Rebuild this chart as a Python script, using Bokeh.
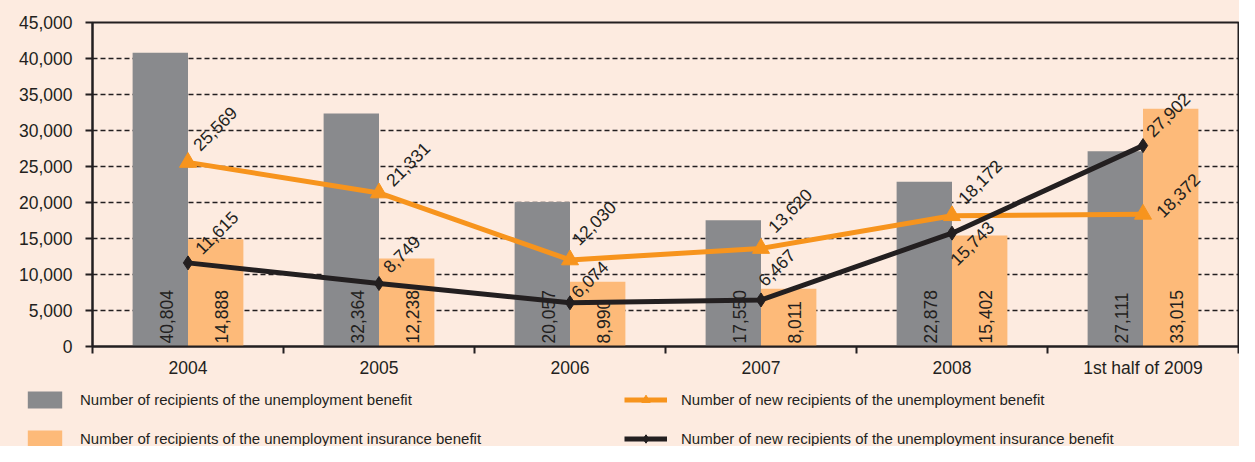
import numpy as np
from bokeh.plotting import figure
from bokeh.layouts import column
from bokeh.models import (ColumnDataSource, FixedTicker, NumeralTickFormatter, Legend,
                          LegendItem, Range1d)
from bokeh.core.properties import value
from bokeh.embed import file_html
from bokeh.resources import INLINE

categories = ["2004", "2005", "2006", "2007", "2008", "1st half of 2009"]
recipients_ub = [40804, 32364, 20057, 17550, 22878, 27111]
recipients_uib = [14888, 12238, 8990, 8011, 15402, 33015]
new_ub = [25569, 21331, 12030, 13620, 18172, 18372]
new_uib = [11615, 8749, 6074, 6467, 15743, 27902]
y_ticks = [0, 5000, 10000, 15000, 20000, 25000, 30000, 35000, 40000, 45000]
series_names = [
    "Number of recipients of the unemployment benefit",
    "Number of recipients of the unemployment insurance benefit",
    "Number of new recipients of the unemployment benefit",
    "Number of new recipients of the unemployment insurance benefit",
]

# label nudges in screen pixels (style only)
ub_dx = [8, 10, 5, 10, 9, 16]
ub_dy = [15, 10, 18, 19, 15, 0]
uib_dx = [10, 7, 4, 0, 1, 6]
uib_dy = [12, 14, 8, 17, -29, 12]

BG = "#FDEBE0"
GREY = "#898A8D"
ORANGE_BAR = "#FDBA79"
ORANGE = "#F7941D"
DARK = "#231F20"
FONT = "Liberation Sans"
FS = "17.5px"

n = len(categories)
xc = np.arange(n) + 0.5
off = 0.145
bw = 0.29

fmt = lambda v: f"{v:,}"

src = ColumnDataSource(dict(
    xg=xc - off, xo=xc + off, xc=xc,
    grey=recipients_ub, orange=recipients_uib,
    new_ub=new_ub, new_uib=new_uib,
    grey_lbl=[fmt(v) for v in recipients_ub],
    orange_lbl=[fmt(v) for v in recipients_uib],
    ub_lbl=[fmt(v) for v in new_ub],
    uib_lbl=[fmt(v) for v in new_uib],
    ub_dx=ub_dx, ub_dy=[-d for d in ub_dy],
    uib_dx=uib_dx, uib_dy=[-d for d in uib_dy],
))

p = figure(width=1239, height=380, output_backend="svg", toolbar_location=None,
           x_range=Range1d(0, n), y_range=Range1d(0, 45000),
           min_border_left=92, min_border_right=1, min_border_top=22, min_border_bottom=34)
p.frame_align = False
p.background_fill_color = BG
p.border_fill_color = BG
p.outline_line_color = DARK
p.outline_line_width = 2

# axes
p.yaxis.ticker = FixedTicker(ticks=y_ticks)
p.yaxis.formatter = NumeralTickFormatter(format="0,0")
p.yaxis.major_tick_out = 7
p.yaxis.major_tick_in = 0
p.yaxis.minor_tick_line_color = None
p.yaxis.major_label_standoff = 13

p.xaxis.ticker = FixedTicker(ticks=list(xc), minor_ticks=list(range(n + 1)))
p.xaxis.major_label_overrides = {float(x): c for x, c in zip(xc, categories)}
p.xaxis.major_tick_out = 0
p.xaxis.minor_tick_out = 7
p.xaxis.minor_tick_in = 0
p.xaxis.minor_tick_line_color = DARK
p.xaxis.minor_tick_line_width = 2
p.xaxis.major_label_standoff = 4

for ax in (p.xaxis, p.yaxis):
    ax.axis_line_color = DARK
    ax.axis_line_width = 2
    ax.major_tick_line_width = 2
    ax.major_label_text_font = FONT
    ax.major_label_text_font_size = FS
    ax.major_label_text_color = DARK
p.yaxis.major_tick_line_color = DARK
p.xaxis.major_tick_line_color = None

p.xgrid.grid_line_color = None
p.ygrid.ticker = FixedTicker(ticks=y_ticks[1:-1])
p.ygrid.grid_line_color = DARK
p.ygrid.grid_line_dash = "5 3"
p.ygrid.grid_line_width = 1.5

# bars
p.vbar(x="xg", top="grey", width=bw, bottom=0, source=src,
       fill_color=GREY, line_color=None)
p.vbar(x="xo", top="orange", width=bw, bottom=0, source=src,
       fill_color=ORANGE_BAR, line_color=None)

# lines
p.line(x="xc", y="new_ub", source=src, line_color=ORANGE, line_width=5)
p.scatter(x="xc", y="new_ub", source=src, marker="triangle", size=17,
          fill_color=ORANGE, line_color=ORANGE)
p.line(x="xc", y="new_uib", source=src, line_color=DARK, line_width=5)
p.scatter(x="xc", y="new_uib", source=src, marker="diamond", size=14,
          fill_color=DARK, line_color=DARK)

# bar labels (vertical)
for xf, lf in (("xg", "grey_lbl"), ("xo", "orange_lbl")):
    p.text(x=xf, y=0, text=lf, source=src, angle=np.pi / 2,
           text_align="left", text_baseline="middle", x_offset=6, y_offset=-3,
           text_font=value(FONT), text_font_size=FS, text_color=DARK)

# line labels (diagonal)
p.text(x="xc", y="new_ub", text="ub_lbl", source=src, angle=np.pi / 4,
       text_align="left", text_baseline="middle", x_offset="ub_dx", y_offset="ub_dy",
       text_font=value(FONT), text_font_size=FS, text_color=DARK)
p.text(x="xc", y="new_uib", text="uib_lbl", source=src, angle=np.pi / 4,
       text_align="left", text_baseline="middle", x_offset="uib_dx", y_offset="uib_dy",
       text_font=value(FONT), text_font_size=FS, text_color=DARK)

# legend strip (separate figure so the legend is not clipped by the chart frame);
# its renderers are hidden, only their legend swatches are shown
LH = 66
pl = figure(width=1239, height=LH, output_backend="svg", toolbar_location=None,
            x_range=Range1d(0, n), y_range=Range1d(0, 45000),
            x_axis_location=None, y_axis_location=None,
            min_border_left=0, min_border_right=0, min_border_top=0, min_border_bottom=0)
pl.frame_align = False
pl.background_fill_color = BG
pl.border_fill_color = BG
pl.outline_line_color = None
pl.grid.grid_line_color = None
g1 = pl.vbar(x="xg", top="grey", width=bw, source=src, fill_color=GREY, line_color=None)
g2 = pl.vbar(x="xo", top="orange", width=bw, source=src, fill_color=ORANGE_BAR, line_color=None)
g3l = pl.line(x="xc", y="new_ub", source=src, line_color=ORANGE, line_width=5)
g3m = pl.scatter(x="xc", y="new_ub", source=src, marker="triangle", size=15,
                 fill_color=ORANGE, line_color=ORANGE)
g4l = pl.line(x="xc", y="new_uib", source=src, line_color=DARK, line_width=5)
g4m = pl.scatter(x="xc", y="new_uib", source=src, marker="diamond", size=12,
                 fill_color=DARK, line_color=DARK)
for r in (g1, g2, g3l, g3m, g4l, g4m):
    r.visible = False

legend = Legend(items=[
    LegendItem(label=series_names[0], renderers=[g1]),
    LegendItem(label=series_names[1], renderers=[g2]),
    LegendItem(label=series_names[2], renderers=[g3l, g3m]),
    LegendItem(label=series_names[3], renderers=[g4l, g4m]),
], location=(23, -3), ncols=2, orientation="vertical")
legend.background_fill_alpha = 0
legend.border_line_color = None
legend.inactive_fill_alpha = 0
legend.padding = 0
legend.margin = 0
legend.glyph_width = 43
legend.glyph_height = 21
legend.label_height = 21
legend.label_standoff = 14
legend.spacing = 18
legend.label_width = 526
legend.label_text_font = FONT
legend.label_text_font_size = "15px"
legend.label_text_color = DARK
pl.add_layout(legend)

layout = column(p, pl, spacing=0, styles={"background-color": BG})
open("out.html", "w").write(file_html(layout, INLINE))
